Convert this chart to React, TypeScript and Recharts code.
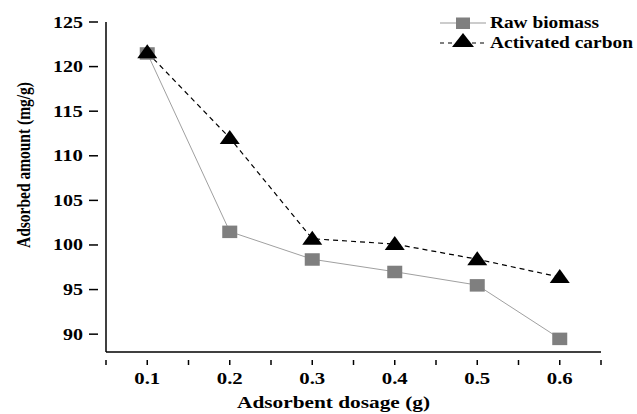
import React from 'react';
import { LineChart, Line, XAxis, YAxis } from 'recharts';

const dosage = [0.1, 0.2, 0.3, 0.4, 0.5, 0.6];
const rawBiomass = [121.5, 101.5, 98.4, 97.0, 95.5, 89.5];
const activatedCarbon = [121.6, 112.0, 100.7, 100.1, 98.4, 96.4];

const xTicks = [0.05, 0.1, 0.15, 0.2, 0.25, 0.3, 0.35, 0.4, 0.45, 0.5, 0.55, 0.6, 0.65];
const xLabels = ['0.1', '0.2', '0.3', '0.4', '0.5', '0.6'];
const yTicks = [90, 92.5, 95, 97.5, 100, 102.5, 105, 107.5, 110, 112.5, 115, 117.5, 120, 122.5, 125];

const seriesNames = ['Raw biomass', 'Activated carbon'];
const xTitle = 'Adsorbent dosage (g)';
const yTitle = 'Adsorbed amount (mg/g)';

const data = dosage.map((d, i) => ({ dosage: d, raw: rawBiomass[i], ac: activatedCarbon[i] }));

const FONT = "'Liberation Serif', 'Times New Roman', serif";

const XTick = (props: any) => {
  const { x, y, payload } = props;
  const label = payload.value.toFixed(1);
  const major = Math.abs(payload.value * 10 - Math.round(payload.value * 10)) < 1e-6 && xLabels.includes(label);
  return (
    <g>
      <line x1={x} x2={x} y1={y} y2={y + 5} stroke="#000" strokeWidth={1.5} />
      {major && (
        <text x={x} y={y + 24} textAnchor="middle" fontFamily={FONT} fontWeight="bold" fontSize={16.5}
          textLength={26} lengthAdjust="spacingAndGlyphs" fill="#000">
          {label}
        </text>
      )}
    </g>
  );
};

const YTick = (props: any) => {
  const { x, y, payload } = props;
  const major = payload.value % 5 === 0;
  const s = String(payload.value);
  return (
    <g>
      <line x1={x} x2={x - (major ? 9 : 6)} y1={y} y2={y} stroke="#000" strokeWidth={1.5} />
      {major && (
        <text x={x - 15} y={y + 5.5} textAnchor="end" fontFamily={FONT} fontWeight="bold" fontSize={16.5}
          textLength={s.length * 10} lengthAdjust="spacingAndGlyphs" fill="#000">
          {s}
        </text>
      )}
    </g>
  );
};

const XTitle = (props: any) => {
  const { viewBox } = props;
  const cx = viewBox.x + viewBox.width / 2 - 20;
  return (
    <text x={cx} y={viewBox.y + 56} textAnchor="middle" fontFamily={FONT} fontWeight="bold" fontSize={16.5}
      textLength={193} lengthAdjust="spacingAndGlyphs" fill="#000">
      {xTitle}
    </text>
  );
};

const YTitle = (props: any) => {
  const { viewBox } = props;
  const cy = viewBox.y + viewBox.height / 2 - 22;
  const bx = 30;
  return (
    <text x={bx} y={cy} transform={`rotate(-90, ${bx}, ${cy})`} textAnchor="middle" fontFamily={FONT}
      fontWeight="bold" fontSize={19.5} textLength={166} lengthAdjust="spacingAndGlyphs" fill="#000">
      {yTitle}
    </text>
  );
};

const SquareDot = (props: any) => {
  const { cx, cy } = props;
  return <rect x={cx - 7.5} y={cy - 6} width={15} height={12.5} fill="#7f7f7f" />;
};

const TriangleDot = (props: any) => {
  const { cx, cy } = props;
  return <polygon points={`${cx},${cy - 8} ${cx - 10},${cy + 6} ${cx + 10},${cy + 6}`} fill="#000" />;
};

const LegendBox = () => (
  <svg width={200} height={50} style={{ position: 'absolute', left: 440, top: 8 }}>
    <line x1={0} x2={46} y1={15} y2={15} stroke="#999" strokeWidth={1} />
    <rect x={16} y={9.5} width={14} height={11.5} fill="#7f7f7f" />
    <text x={50} y={20} fontFamily={FONT} fontWeight="bold" fontSize={16.5} textLength={109}
      lengthAdjust="spacingAndGlyphs" fill="#000">{seriesNames[0]}</text>
    <line x1={0} x2={46} y1={35} y2={35} stroke="#000" strokeWidth={1.2} strokeDasharray="4 4" />
    <polygon points="23,25 12,39 34,39" fill="#000" />
    <text x={50} y={40} fontFamily={FONT} fontWeight="bold" fontSize={16.5} textLength={143}
      lengthAdjust="spacingAndGlyphs" fill="#000">{seriesNames[1]}</text>
  </svg>
);

export default function App() {
  return (
    <div style={{ position: 'absolute', left: 0, top: 0, width: 637, height: 414, background: '#fff' }}>
      <LineChart width={637} height={414} data={data} margin={{ top: 22, right: 36, bottom: 0, left: 0 }}>
        <XAxis
          dataKey="dosage"
          type="number"
          domain={[0.05, 0.65]}
          ticks={xTicks}
          tick={<XTick />}
          tickLine={false}
          axisLine={{ stroke: '#000', strokeWidth: 1.5 }}
          height={62}
          allowDataOverflow
          label={<XTitle />}
        />
        <YAxis
          type="number"
          domain={[88, 125]}
          ticks={yTicks}
          tick={<YTick />}
          tickLine={false}
          axisLine={{ stroke: '#000', strokeWidth: 1.5 }}
          width={106}
          allowDataOverflow
          label={<YTitle />}
        />
        <Line dataKey="raw" name={seriesNames[0]} stroke="#a0a0a0" strokeWidth={1} dot={<SquareDot />} isAnimationActive={false} />
        <Line dataKey="ac" name={seriesNames[1]} stroke="#000" strokeWidth={1.2} strokeDasharray="5 4" dot={<TriangleDot />} isAnimationActive={false} />
      </LineChart>
      <LegendBox />
    </div>
  );
}
